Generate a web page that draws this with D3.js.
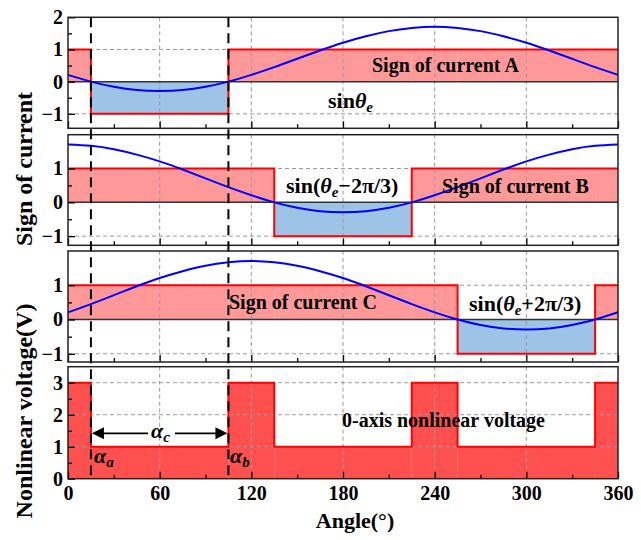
<!DOCTYPE html>
<html>
<head>
<meta charset="utf-8">
<script src="https://cdn.jsdelivr.net/npm/d3@7"></script>
<style>
  body { margin: 0; background: #fff; }
  text { font-family: "Liberation Serif", "Times New Roman", serif; font-weight: bold; }
</style>
</head>
<body>
<svg></svg>
<script>
// chart data
var angleTicks = [0, 60, 120, 180, 240, 300, 360];
var curveAngles = [0, 15, 30, 45, 60, 75, 90, 105, 120, 135, 150, 165, 180,
                   195, 210, 225, 240, 255, 270, 285, 300, 315, 330, 345, 360];
var sinA = [0.21, 0.00, -0.16, -0.26, -0.29, -0.26, -0.16, 0.00, 0.21, 0.45, 0.71, 0.97, 1.21,
            1.41, 1.57, 1.67, 1.71, 1.67, 1.57, 1.41, 1.21, 0.97, 0.71, 0.45, 0.21];
var sinB = [1.71, 1.67, 1.57, 1.41, 1.21, 0.97, 0.71, 0.45, 0.21, 0.00, -0.16, -0.26, -0.29,
            -0.26, -0.16, 0.00, 0.21, 0.45, 0.71, 0.97, 1.21, 1.41, 1.57, 1.67, 1.71];
var sinC = [0.21, 0.45, 0.71, 0.97, 1.21, 1.41, 1.57, 1.67, 1.71, 1.67, 1.57, 1.41, 1.21,
            0.97, 0.71, 0.45, 0.21, 0.00, -0.16, -0.26, -0.29, -0.26, -0.16, 0.00, 0.21];
var stepEdges = [0, 15, 105, 135, 225, 255, 345, 360];
var signA = [1, -1, 1, 1, 1, 1, 1];
var signB = [1, 1, 1, -1, 1, 1, 1];
var signC = [1, 1, 1, 1, 1, -1, 1];
var voltage = [3, 1, 3, 1, 3, 1, 3];
var markerAngles = [15, 105];

var width = 641;
var height = 540;
var left = 68, right = 618;

var svg = d3.select("svg")
      .attr("width", width)
      .attr("height", height);

var x = d3.scaleLinear().domain([0, 360]).range([left, right]);

// panel layout: pixel top/bottom and y domain
var panels = [
  { top: 17.3, bottom: 128.3, domain: [-1.45, 2], curve: sinA, sign: signA, labels: [2, 1, 0, -1], minor: [1.5, 0.5, -0.5] },
  { top: 134.7, bottom: 245.3, domain: [-1.27, 2], curve: sinB, sign: signB, labels: [1, 0, -1], minor: [0.5, -0.5] },
  { top: 251, bottom: 362, domain: [-1.24, 2], curve: sinC, sign: signC, labels: [1, 0, -1], minor: [0.5, -0.5] },
  { top: 366.7, bottom: 478.7, domain: [0, 3.5], sign: voltage, labels: [3, 2, 1, 0], minor: [2.5, 1.5, 0.5] }
];

var fmt = d => d < 0 ? "\u2212" + Math.abs(d) : String(d);

var stepPoints = function(vals) {
  var pts = vals.map((v, i) => [stepEdges[i], v]);
  pts.push([360, vals[vals.length - 1]]);
  return pts;
};

panels.forEach(function(p, pi) {
  var y = d3.scaleLinear().domain(p.domain).range([p.bottom, p.top]);
  var g = svg.append("g");
  var isVoltage = pi === 3;

  // filled step areas
  p.sign.forEach(function(v, i) {
    var x0 = x(stepEdges[i]), x1 = x(stepEdges[i + 1]);
    var yTop = isVoltage ? y(v) : Math.min(y(v), y(0));
    var yBot = isVoltage ? y(0) : Math.max(y(v), y(0));
    g.append("rect")
      .attr("x", x0).attr("y", yTop)
      .attr("width", x1 - x0).attr("height", yBot - yTop)
      .attr("fill", isVoltage ? "#ff5050" : (v > 0 ? "#ff9999" : "#9dc3e6"));
  });

  // grid
  var gridX = angleTicks.filter(d => d > 0 && d < 360);
  g.selectAll(".gx").data(gridX).enter().append("line")
    .attr("x1", d => x(d)).attr("x2", d => x(d))
    .attr("y1", p.top).attr("y2", p.bottom)
    .attr("stroke", "#9a9a9a").attr("stroke-width", 1).attr("stroke-dasharray", "4,3");
  var gridY = isVoltage ? [1, 2, 3] : [1, -1];
  g.selectAll(".gy").data(gridY).enter().append("line")
    .attr("x1", left).attr("x2", right)
    .attr("y1", d => y(d)).attr("y2", d => y(d))
    .attr("stroke", "#9a9a9a").attr("stroke-width", 1).attr("stroke-dasharray", "4,3");

  // red step outline
  g.append("path")
    .datum(stepPoints(p.sign))
    .attr("d", d3.line().x(d => x(d[0])).y(d => y(d[1])).curve(d3.curveStepAfter))
    .attr("fill", "none").attr("stroke", "#ff0000").attr("stroke-width", 2);

  if (!isVoltage) {
    g.append("line")
      .attr("x1", left).attr("x2", right)
      .attr("y1", y(0)).attr("y2", y(0))
      .attr("stroke", "#333").attr("stroke-width", 1.5);
    g.append("path")
      .datum(p.curve)
      .attr("d", d3.line().x((d, i) => x(curveAngles[i])).y(d => y(d)).curve(d3.curveNatural))
      .attr("fill", "none").attr("stroke", "#0000ff").attr("stroke-width", 2);
  }

  // axes: ticks inside
  var xAxis = d3.axisBottom(x).tickValues(angleTicks).tickSize(-7).tickPadding(7)
      .tickFormat(isVoltage ? d3.format("d") : "");
  var xa = g.append("g").attr("transform", "translate(0," + p.bottom + ")").call(xAxis);
  var xMinor = g.append("g").attr("transform", "translate(0," + p.bottom + ")")
      .call(d3.axisBottom(x).tickValues([30, 90, 150, 210, 270, 330]).tickSize(-4).tickFormat(""));
  var ya = g.append("g").attr("transform", "translate(" + left + ",0)")
      .call(d3.axisLeft(y).tickValues(p.labels).tickSize(-7).tickPadding(5).tickFormat(fmt));
  var yMinor = g.append("g").attr("transform", "translate(" + left + ",0)")
      .call(d3.axisLeft(y).tickValues(p.minor).tickSize(-4).tickFormat(""));
  [xa, xMinor, ya, yMinor].forEach(function(a) {
    a.select(".domain").remove();
    a.selectAll("line").attr("stroke", "#000").attr("stroke-width", 1.3);
    a.selectAll("text").attr("fill", "#000")
      .style("font-family", '"Liberation Serif", serif')
      .style("font-weight", "bold").style("font-size", "20px");
  });

  // frame
  g.append("rect")
    .attr("x", left).attr("y", p.top)
    .attr("width", right - left).attr("height", p.bottom - p.top)
    .attr("fill", "none").attr("stroke", "#222").attr("stroke-width", 1.5);
});

// long dashed marker lines through all panels
svg.selectAll(".marker").data(markerAngles).enter().append("line")
  .attr("x1", d => x(d)).attr("x2", d => x(d))
  .attr("y1", panels[0].top).attr("y2", panels[3].bottom)
  .attr("stroke", "#000").attr("stroke-width", 2).attr("stroke-dasharray", "10,6");

// annotation texts
var label = function(tx, ty, parts, size) {
  var t = svg.append("text").attr("x", tx).attr("y", ty).style("font-size", (size || 20) + "px");
  parts.forEach(function(pt) {
    var s = t.append("tspan").text(pt.t);
    if (pt.it) s.style("font-style", "italic");
    if (pt.sub) s.attr("dy", pt.sub).style("font-size", (pt.fs || 15) + "px");
    if (pt.fs && !pt.sub) s.style("font-size", pt.fs + "px");
  });
  return t;
};

label(372, 72, [{ t: "Sign of current A" }]);
label(328, 108, [{ t: "sin" }, { t: "\u03b8", it: true }, { t: "e", it: true, sub: 4 }], 22);
label(286, 193, [{ t: "sin(" }, { t: "\u03b8", it: true }, { t: "e", it: true, sub: 4 },
                 { t: "\u22122\u03c0/3)", sub: -4, fs: 22 }], 22);
label(442, 193, [{ t: "Sign of current B" }]);
label(229, 309, [{ t: "Sign of current C" }]);
label(469, 311, [{ t: "sin(" }, { t: "\u03b8", it: true }, { t: "e", it: true, sub: 4 },
                 { t: "+2\u03c0/3)", sub: -4, fs: 22 }], 22);
label(342, 427, [{ t: "0-axis nonlinear voltage" }]);

// alpha annotations
var ay = 433.3;
svg.append("line").attr("x1", x(15) + 10).attr("x2", 148).attr("y1", ay).attr("y2", ay)
  .attr("stroke", "#000").attr("stroke-width", 1.8);
svg.append("line").attr("x1", 175).attr("x2", x(105) - 10).attr("y1", ay).attr("y2", ay)
  .attr("stroke", "#000").attr("stroke-width", 1.8);
svg.append("path")
  .attr("d", "M" + (x(15) + 1) + "," + ay + "l12,-6l0,12z")
  .attr("fill", "#000");
svg.append("path")
  .attr("d", "M" + (x(105) - 1) + "," + ay + "l-12,-6l0,12z")
  .attr("fill", "#000");
var alpha = function(tx, ty, sub) {
  var t = svg.append("text").attr("x", tx).attr("y", ty)
    .style("font-size", "22px").style("font-style", "italic");
  t.append("tspan").text("\u03b1");
  t.append("tspan").text(sub).attr("dy", 4).style("font-size", "15px");
};
alpha(151, 438, "c");
alpha(94, 463, "a");
alpha(230, 463, "b");

// axis titles
svg.append("text")
  .attr("transform", "translate(32," + 169 + ") rotate(-90)")
  .attr("text-anchor", "middle").style("font-size", "24px")
  .text("Sign of current");
svg.append("text")
  .attr("transform", "translate(32," + 411 + ") rotate(-90)")
  .attr("text-anchor", "middle").style("font-size", "24px")
  .text("Nonlinear voltage(V)");
svg.append("text")
  .attr("x", 355).attr("y", 528)
  .attr("text-anchor", "middle").style("font-size", "22px")
  .text("Angle(\u00b0)");
</script>
</body>
</html>
